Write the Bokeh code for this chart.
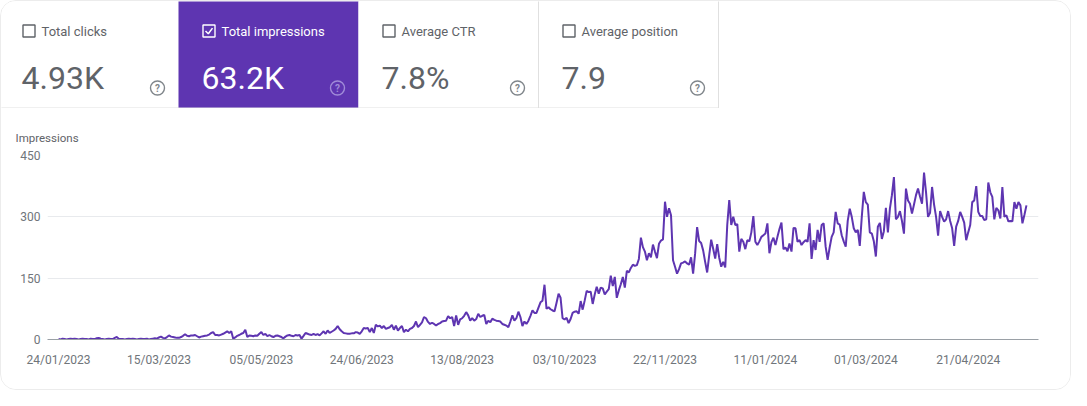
import pandas as pd
from bokeh.plotting import figure
from bokeh.layouts import column
from bokeh.models import Range1d, FixedTicker, DatetimeTickFormatter
from bokeh.core.properties import value
from bokeh.embed import file_html
from bokeh.resources import INLINE

# ---------------- data ----------------
metric_names = ["Total clicks", "Total impressions", "Average CTR", "Average position"]
metric_values = ["4.93K", "63.2K", "7.8%", "7.9"]
metric_selected = [False, True, False, False]

series_name = "Impressions"
start_date = "2023-01-24"
jan_2023 = [1, 0, 2, 1, 0, 1, 2, 1]
feb_2023 = [2, 1, 0, 1, 2, 1, 1, 0, 2, 1, 1, 3, 4, 2, 1, 0, 1, 2, 1, 1, 4, 6, 2, 1, 1, 0, 1, 2]
mar_2023 = [1, 2, 1, 0, 1, 2, 1, 1, 2, 0, 1, 2, 3, 2, 5, 7, 4, 3, 6, 10, 7, 6, 5, 4, 4, 6, 9, 13, 9, 8, 10]
apr_2023 = [10, 11, 8, 5, 7, 8, 9, 10, 12, 16, 18, 11, 11, 10, 12, 14, 17, 20, 16, 20, 2, 5, 9, 11, 14, 16, 24, 6, 10, 9]
may_2023 = [8, 10, 9, 14, 18, 11, 14, 8, 11, 8, 6, 9, 10, 8, 6, 3, 7, 10, 11, 9, 8, 11, 10, 11, 2, 9, 16, 14, 12, 11, 14]
jun_2023 = [11, 13, 10, 15, 20, 14, 22, 16, 19, 22, 26, 33, 25, 20, 16, 15, 14, 14, 15, 15, 18, 17, 14, 20, 28, 27, 28, 18, 28, 16]
jul_2023 = [36, 32, 34, 28, 33, 26, 28, 30, 36, 24, 34, 22, 28, 33, 18, 24, 20, 26, 28, 33, 44, 30, 36, 42, 55, 52, 43, 38, 41, 38, 34]
aug_2023 = [38, 40, 44, 45, 46, 57, 52, 55, 33, 59, 36, 49, 52, 58, 67, 59, 46, 52, 46, 50, 63, 55, 58, 60, 38, 46, 42, 51, 48, 46, 45]
sep_2023 = [44, 38, 36, 34, 30, 44, 59, 46, 52, 68, 55, 33, 44, 38, 46, 58, 71, 65, 65, 78, 91, 95, 134, 75, 79, 74, 71, 69, 90, 112]
oct_2023 = [102, 52, 49, 53, 40, 50, 65, 68, 69, 63, 94, 73, 95, 119, 116, 117, 87, 110, 129, 112, 127, 125, 110, 117, 123, 156, 131, 153, 102, 120, 135]
nov_2023 = [153, 127, 168, 164, 175, 183, 180, 182, 197, 249, 226, 215, 194, 211, 201, 232, 215, 199, 234, 242, 245, 337, 300, 321, 304, 194, 178, 161, 172, 186]
dec_2023 = [188, 191, 186, 183, 201, 161, 210, 275, 241, 236, 218, 190, 164, 205, 244, 222, 198, 233, 200, 178, 190, 176, 280, 341, 280, 300, 280, 282, 215, 246, 239]
jan_2024 = [221, 243, 240, 262, 302, 239, 231, 240, 251, 255, 259, 284, 211, 238, 249, 231, 251, 270, 286, 221, 225, 216, 235, 215, 273, 272, 239, 243, 231, 238, 243]
feb_2024 = [239, 284, 197, 243, 219, 268, 239, 280, 284, 227, 195, 225, 251, 262, 312, 284, 281, 255, 240, 227, 290, 320, 300, 272, 262, 268, 229, 300, 361]
mar_2024 = [336, 330, 262, 259, 240, 203, 276, 285, 246, 265, 322, 262, 320, 353, 397, 294, 300, 314, 290, 259, 369, 340, 332, 308, 330, 353, 369, 350, 332, 408, 360]
apr_2024 = [300, 310, 373, 330, 300, 254, 314, 300, 288, 294, 314, 290, 272, 229, 276, 290, 312, 300, 286, 243, 262, 280, 336, 340, 375, 312, 302, 302, 292, 294]
may_2024 = [384, 360, 349, 294, 322, 316, 296, 373, 300, 304, 289, 290, 289, 336, 320, 336, 328, 284, 305, 328]

tick_dates = ["2023-01-24", "2023-03-15", "2023-05-05", "2023-06-24", "2023-08-13",
              "2023-10-03", "2023-11-22", "2024-01-11", "2024-03-01", "2024-04-21"]
y_ticks = [0, 150, 300, 450]

impressions = (jan_2023 + feb_2023 + mar_2023 + apr_2023 + may_2023 + jun_2023 + jul_2023 +
               aug_2023 + sep_2023 + oct_2023 + nov_2023 + dec_2023 + jan_2024 + feb_2024 +
               mar_2024 + apr_2024 + may_2024)
dates = pd.date_range(start_date, periods=len(impressions), freq="D")

# ---------------- style ----------------
FONT = "Roboto"
PURPLE = "#5e35b1"
GRAY = "#5f6368"
LIGHT = "#e0e0e0"

# ---------------- top cards (pixel space) ----------------
top = figure(width=1069, height=107, x_range=Range1d(9, 1078), y_range=Range1d(116, 9),
             x_axis_type=None, y_axis_type=None, toolbar_location=None,
             output_backend="svg", min_border=0)
top.min_border_left = top.min_border_right = top.min_border_top = top.min_border_bottom = 0
top.frame_align = False
top.grid.visible = False
top.outline_line_color = None

card_w = 180
lefts = [6 + card_w * i for i in range(len(metric_names))]
rights = [l + card_w for l in lefts]
fills = [PURPLE if s else "white" for s in metric_selected]
fg = ["white" if s else GRAY for s in metric_selected]
help_col = ["#a08bd8" if s else "#80868b" for s in metric_selected]

top.quad(left=lefts, right=rights, top=6, bottom=115.5, fill_color=fills, line_color=None)
# separators
top.segment(x0=[rights[2], rights[3]], y0=[6, 6], x1=[rights[2], rights[3]], y1=[115.5, 115.5],
            line_color=LIGHT, line_width=1)
top.segment(x0=[6], y0=[115.5], x1=[rights[3]], y1=[115.5], line_color=LIGHT, line_width=1)
# checkboxes
top.quad(left=[l + 24.5 for l in lefts], right=[l + 36.5 for l in lefts], top=32.5, bottom=44.5,
         fill_color=None, line_color=fg, line_width=1.4)
sel = [i for i, s in enumerate(metric_selected) if s]
top.multi_line(xs=[[lefts[i] + 27, lefts[i] + 29.8, lefts[i] + 34] for i in sel],
               ys=[[38.5, 41.3, 35.6] for i in sel], line_color="white", line_width=1.5)
# labels
top.text(x=[l + 43 for l in lefts], y=[38.5] * 4, text=metric_names, text_color=fg,
         text_font=value(FONT), text_font_size="13px", text_baseline="middle")
top.text(x=[l + 23 for l in lefts], y=[85] * 4, text=metric_values, text_color=fg,
         text_font=value(FONT), text_font_size="32px", text_baseline="alphabetic")
# help icons
top.scatter(x=[l + 159 for l in lefts], y=[95.5] * 4, size=14, marker="circle",
            fill_color=None, line_color=help_col, line_width=1.4)
top.text(x=[l + 159 for l in lefts], y=[96] * 4, text=["?"] * 4, text_color=help_col,
         text_font=value(FONT), text_font_size="10px", text_font_style="bold",
         text_align="center", text_baseline="middle")

# ---------------- chart ----------------
d0 = pd.Timestamp(start_date)
p = figure(width=1069, height=281, x_axis_type="datetime",
           x_range=Range1d(d0 - pd.Timedelta(days=5.5), d0 + pd.Timedelta(days=488)),
           y_range=Range1d(0, 450), toolbar_location=None, output_backend="svg",
           min_border_left=46, min_border_right=32, min_border_top=47, min_border_bottom=50,
           title=series_name)
p.frame_align = False
p.title.align = "left"
p.title.offset = -32
p.title.standoff = 22
p.title.text_font = FONT
p.title.text_font_size = "11.5px"
p.title.text_font_style = "normal"
p.title.text_color = GRAY
p.outline_line_color = None
p.xgrid.visible = False
p.ygrid.grid_line_color = "#e8eaed"
p.ygrid.ticker = FixedTicker(ticks=y_ticks)

p.line(dates, impressions, line_color=PURPLE, line_width=2)

p.xaxis.ticker = FixedTicker(ticks=[pd.Timestamp(t).value / 1e6 for t in tick_dates])
fmt = "%d/%m/%Y"
p.xaxis.formatter = DatetimeTickFormatter(microseconds=fmt, milliseconds=fmt, seconds=fmt,
                                          minsec=fmt, minutes=fmt, hourmin=fmt, hours=fmt,
                                          days=fmt, months=fmt, years=fmt)
p.xaxis.axis_line_color = "#9aa0a6"
p.xaxis.major_tick_line_color = None
p.xaxis.minor_tick_line_color = None
p.xaxis.major_tick_out = 0
p.xaxis.major_label_standoff = 13
p.xaxis.major_label_text_font = FONT
p.xaxis.major_label_text_font_size = "12px"
p.xaxis.major_label_text_color = "#70757a"

p.yaxis.ticker = FixedTicker(ticks=y_ticks)
p.yaxis.axis_line_color = None
p.yaxis.major_tick_line_color = None
p.yaxis.minor_tick_line_color = None
p.yaxis.major_tick_out = 0
p.yaxis.major_label_standoff = 7
p.yaxis.major_label_text_font = FONT
p.yaxis.major_label_text_font_size = "12px"
p.yaxis.major_label_text_color = "#70757a"

layout = column(top, p, styles={"border": "1px solid #ececec", "border-radius": "16px",
                                "overflow": "hidden"})

open("out.html", "w").write(file_html(layout, INLINE))
